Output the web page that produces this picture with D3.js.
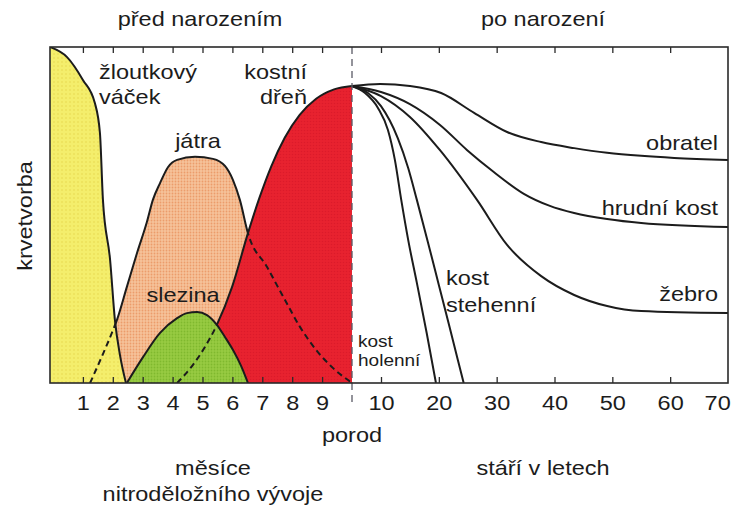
<!DOCTYPE html>
<html><head><meta charset="utf-8">
<script src="https://cdn.jsdelivr.net/npm/d3@7"></script>
<style>
html,body{margin:0;padding:0;background:#fff;}
svg text{font-family:"Liberation Sans", Arial, sans-serif; fill:#1c1c1c;}
</style></head><body>
<svg id="chart" width="748" height="508"></svg>
<script>
// Tick values: months of prenatal development, years of age after birth
const monthTicks = [1, 2, 3, 4, 5, 6, 7, 8, 9];
const yearTicks = [10, 20, 30, 40, 50, 60, 70];

// Prenatal blood-forming sites: [month, relative activity 0–100]
const yolkSac = [[-0.1,100],[0.47,97],[1.0,90.2],[1.4,83.3],[1.57,74.4],[1.67,54.5],[1.91,36.6],[2.07,18.8],[2.24,8.3],[2.44,0]];
const liver = [[1.24,0],[1.61,7.4],[2.01,15.8],[2.14,18.8],[2.47,28.6],[2.81,38.7],[3.14,47.9],[3.34,54.5],[3.58,59.5],[3.85,64.3],[4.15,66.4],[4.75,67.3],[5.35,66.7],[5.75,64.6],[6.02,60.4],[6.25,54.5],[6.52,44.6],[7.16,34.5],[7.76,24.7],[8.26,16.7],[8.86,9.2],[9.36,4.5],[10,0]];
const spleen = [[2.47,0],[3.01,7.7],[3.58,14.9],[4.15,19.3],[4.48,20.8],[4.82,21.1],[5.15,20.2],[5.48,17.3],[5.75,13.7],[6.02,9.8],[6.29,5.1],[6.52,0]];
const marrow = [[4.15,0],[4.68,5.4],[5.08,10.7],[5.48,17.3],[5.99,28.6],[6.52,44.6],[6.9,55],[7.3,64.5],[7.75,73],[8.25,79.8],[8.8,84.6],[9.4,87.4],[10,88.4]];

// Marrow activity by bone after birth: [year, relative activity 0–100]
const vertebra = [[0,88.4],[9.7,89.0],[15,88.4],[20.4,86.3],[26.1,80.4],[31.8,74.7],[37.7,71.7],[43.4,69.9],[49.1,68.5],[55,67.6],[60.7,67.0],[70,66.4]];
const sternum = [[0,88.4],[10,86.6],[15,83.0],[20.2,76.8],[24.9,69.3],[29.5,62.8],[34.7,56.3],[39.2,52.7],[43.4,50.6],[49.1,48.8],[55,47.6],[70,46.4]];
const rib = [[0,88.4],[10,85.4],[15,79.2],[20.2,69.3],[26.6,54.5],[31.8,41.1],[37.7,31.8],[43.4,26.2],[49.1,22.9],[55,21.4],[70,20.8]];
const femur = [[0,88.4],[5.5,86.3],[10,82.4],[12.9,72.9],[14.7,64.0],[16.2,54.5],[18.1,42.0],[20,29.2],[21.9,16.4],[23.3,6.8],[24.3,0]];
const tibia = [[0,88.4],[4.5,86.3],[9,81.8],[11.2,75.3],[12.4,66.4],[13.5,54.5],[14.7,42.6],[16.2,29.8],[17.9,14.9],[19.5,0]];

const svg = d3.select("#chart");
const frame = {left: 50, right: 728, top: 47, bottom: 383};

const xM = d3.scaleLinear().domain([0, 10]).range([53, 352]);
const xY = d3.scaleLinear().domain([0, 10, 70]).range([352, 381, 728]);
const y = d3.scaleLinear().domain([0, 100]).range([frame.bottom, frame.top]);

const ink = "#1c1c1c";
const stretch = 1.12;   // wide lettering
const fs = 21;

const areaM = d3.area().x(d => xM(d[0])).y0(y(0)).y1(d => y(d[1])).curve(d3.curveMonotoneX);
const lineM = d3.line().x(d => xM(d[0])).y(d => y(d[1])).curve(d3.curveMonotoneX);
const lineY = d3.line().x(d => xY(d[0])).y(d => y(d[1])).curve(d3.curveMonotoneX);

const defs = svg.append("defs");

// Halftone-style fills
function dotPattern(id, base, dot, r, step) {
  const p = defs.append("pattern").attr("id", id).attr("patternUnits", "userSpaceOnUse")
    .attr("width", step).attr("height", step);
  p.append("rect").attr("width", step).attr("height", step).attr("fill", base);
  p.append("circle").attr("cx", step / 2).attr("cy", step / 2).attr("r", r).attr("fill", dot);
  return `url(#${id})`;
}
const fills = {
  yolk: dotPattern("patYolk", "#f4ee6c", "#ece15a", 1.0, 4),
  liver: dotPattern("patLiver", "#f6c29a", "#ec9c6a", 0.9, 3),
  spleen: dotPattern("patSpleen", "#98cb42", "#7fb92e", 0.9, 3),
  marrow: dotPattern("patMarrow", "#e8222f", "#dc1a2a", 0.8, 3)
};

// Clip shapes for hidden (dashed) and visible (solid) outline parts
defs.append("clipPath").attr("id", "plotClip")
  .append("rect").attr("x", frame.left).attr("y", frame.top)
  .attr("width", frame.right - frame.left).attr("height", frame.bottom - frame.top);
const cYR = defs.append("clipPath").attr("id", "inYolkMarrow");
cYR.append("path").attr("d", areaM(yolkSac));
cYR.append("path").attr("d", areaM(marrow));
defs.append("clipPath").attr("id", "inSpleen").append("path").attr("d", areaM(spleen));
const mYR = defs.append("mask").attr("id", "outYolkMarrow");
mYR.append("rect").attr("width", 748).attr("height", 508).attr("fill", "#fff");
mYR.append("path").attr("d", areaM(yolkSac)).attr("fill", "#000");
mYR.append("path").attr("d", areaM(marrow)).attr("fill", "#000");
const mS = defs.append("mask").attr("id", "outSpleen");
mS.append("rect").attr("width", 748).attr("height", 508).attr("fill", "#fff");
mS.append("path").attr("d", areaM(spleen)).attr("fill", "#000");

const plot = svg.append("g").attr("clip-path", "url(#plotClip)");

// Filled areas, back to front
plot.append("path").attr("d", areaM(liver)).attr("fill", fills.liver);
plot.append("path").attr("d", areaM(marrow)).attr("fill", fills.marrow);
plot.append("path").attr("d", areaM(yolkSac)).attr("fill", fills.yolk);
plot.append("path").attr("d", areaM(spleen)).attr("fill", fills.spleen);

const solid = sel => sel.attr("fill", "none").attr("stroke", ink).attr("stroke-width", 2);
const dashed = sel => sel.attr("fill", "none").attr("stroke", ink).attr("stroke-width", 2).attr("stroke-dasharray", "6 4");

plot.append("path").attr("d", lineM(yolkSac)).call(solid);
plot.append("path").attr("d", lineM(spleen)).call(solid);
plot.append("path").attr("d", lineM(liver)).attr("mask", "url(#outYolkMarrow)").call(solid);
plot.append("path").attr("d", lineM(liver)).attr("clip-path", "url(#inYolkMarrow)").call(dashed);
plot.append("path").attr("d", lineM(marrow)).attr("mask", "url(#outSpleen)").call(solid);
plot.append("path").attr("d", lineM(marrow)).attr("clip-path", "url(#inSpleen)").call(dashed);

// Post-natal marrow lines
[vertebra, sternum, rib, femur, tibia].forEach(s => {
  plot.append("path").attr("d", lineY(s)).call(solid);
});

// Birth divider
svg.append("line").attr("x1", xM(10)).attr("x2", xM(10))
  .attr("y1", frame.top).attr("y2", 405)
  .attr("stroke", "#5a5a66").attr("stroke-width", 1.3).attr("stroke-dasharray", "7 5");

// Frame
svg.append("rect").attr("x", frame.left).attr("y", frame.top)
  .attr("width", frame.right - frame.left).attr("height", frame.bottom - frame.top)
  .attr("fill", "none").attr("stroke", "#2a2a2a").attr("stroke-width", 1.6);

// Axes with inward ticks
function styleAxis(g) {
  g.select(".domain").remove();
  g.selectAll(".tick line").attr("stroke", "#2a2a2a").attr("stroke-width", 1.3);
  g.selectAll(".tick text").attr("font-size", fs).attr("font-family", "Liberation Sans, Arial, sans-serif")
    .attr("fill", ink).attr("transform", `scale(${stretch},1)`);
}
svg.append("g").attr("transform", `translate(0,${frame.bottom})`)
  .call(d3.axisBottom(xM).tickValues(monthTicks).tickSizeInner(-6).tickSizeOuter(0).tickPadding(12))
  .call(styleAxis);
const yearAxis = svg.append("g").attr("transform", `translate(0,${frame.bottom})`)
  .call(d3.axisBottom(xY).tickValues(yearTicks).tickSizeInner(-6).tickSizeOuter(0).tickPadding(12))
  .call(styleAxis);
yearAxis.selectAll(".tick").filter(d => d === 70).select("line").remove();
yearAxis.selectAll(".tick").filter(d => d === 70).select("text").attr("text-anchor", "end").attr("x", 2);
svg.append("g").attr("transform", `translate(0,${frame.top})`)
  .call(d3.axisTop(xM).tickValues(monthTicks).tickSizeInner(-6).tickSizeOuter(0).tickFormat(""))
  .call(styleAxis);
svg.append("g").attr("transform", `translate(0,${frame.top})`)
  .call(d3.axisTop(xY).tickValues(yearTicks.filter(v => v < 70)).tickSizeInner(-6).tickSizeOuter(0).tickFormat(""))
  .call(styleAxis);

// Text labels
function label(txt, x, yy, anchor, size, rot) {
  return svg.append("text")
    .attr("transform", `translate(${x},${yy})${rot ? ` rotate(${rot})` : ""} scale(${stretch},1)`)
    .attr("text-anchor", anchor || "start")
    .attr("font-size", size || fs).text(txt);
}
label("před narozením", 200, 26, "middle");
label("po narození", 543, 26, "middle");
label("žloutkový", 99, 79);
label("váček", 99, 104);
label("kostní", 307, 79, "end");
label("dřeň", 307, 104, "end");
label("játra", 198, 148, "middle");
label("slezina", 183, 302, "middle");
label("obratel", 718, 150, "end");
label("hrudní kost", 718, 215, "end");
label("žebro", 718, 301, "end");
label("kost", 446, 285);
label("stehenní", 446, 312);
label("kost", 358, 347, "start", 17);
label("holenní", 358, 366, "start", 17);
label("porod", 352, 442, "middle");
label("měsíce", 213, 475, "middle");
label("nitroděložního vývoje", 213, 501, "middle");
label("stáří v letech", 543, 475, "middle");
label("krvetvorba", 32, 216, "middle", fs, -90);
</script>
</body></html>
